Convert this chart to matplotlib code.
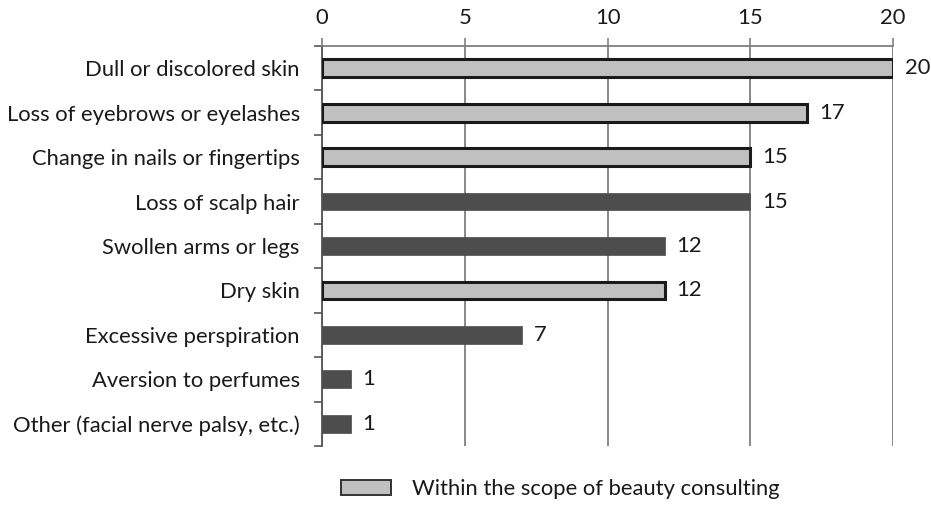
import matplotlib
matplotlib.use('Agg')
import matplotlib.pyplot as plt
import numpy as np
from matplotlib.patches import Patch

categories = ['Dull or discolored skin', 'Loss of eyebrows or eyelashes',
              'Change in nails or fingertips', 'Loss of scalp hair',
              'Swollen arms or legs', 'Dry skin', 'Excessive perspiration',
              'Aversion to perfumes', 'Other (facial nerve palsy, etc.)']
values = [20, 17, 15, 15, 12, 12, 7, 1, 1]
beauty_scope = [True, True, True, False, False, True, False, False, False]
x_ticks = [0, 5, 10, 15, 20]

plt.rcParams['font.family'] = ['Lato', 'DejaVu Sans']
text_color = '#1a1a1a'
light = '#c0c0c0'
dark = '#4d4d4d'
grid_color = '#7f7f7f'
fs = 15.8

fig = plt.figure(figsize=(9.31, 5.08), dpi=100)
ax = fig.add_axes([322 / 931, 1 - 446 / 508, (893 - 322) / 931, 400 / 508])

y = np.arange(len(categories))
for yi, v, scope in zip(y, values, beauty_scope):
    if scope:
        ax.barh(yi, v, height=0.4, color=light, edgecolor='#1a1a1a', linewidth=2.2, zorder=3)
    else:
        ax.barh(yi, v, height=0.4, color=dark, edgecolor=dark, linewidth=0.5, zorder=3)
    ax.text(v + 0.42, yi, str(v), va='center', ha='left', fontsize=fs, color=text_color)

ax.set_xlim(0, 20)
ax.set_ylim(len(categories) - 0.5, -0.5)
ax.xaxis.tick_top()
ax.set_xticks(x_ticks)
ax.tick_params(axis='x', length=6, width=1.2, color=grid_color, labelsize=fs,
               labelcolor=text_color, pad=7)
ax.set_yticks(y)
ax.set_yticklabels(categories)
ax.set_yticks(np.arange(-0.5, len(categories), 1), minor=True)
ax.tick_params(axis='y', which='major', length=0, labelsize=fs, labelcolor=text_color, pad=16)
ax.tick_params(axis='y', which='minor', length=6, width=1.2, color='#555555')
ax.grid(axis='x', color=grid_color, linewidth=1.3, zorder=0)

for side in ['right', 'bottom']:
    ax.spines[side].set_visible(False)
ax.spines['top'].set_color(grid_color)
ax.spines['top'].set_linewidth(1.3)
ax.spines['left'].set_color('#555555')
ax.spines['left'].set_linewidth(1.3)

handles = [Patch(facecolor=light, edgecolor='#333333', linewidth=1.4)]
fig.legend(handles, ['Within the scope of beauty consulting'], loc='center',
           bbox_to_anchor=(560 / 931, 1 - 489 / 508), frameon=False, fontsize=fs,
           handlelength=2.3, handleheight=0.7, handletextpad=0.95,
           labelcolor=text_color)

fig.savefig('out.png', dpi=100)
